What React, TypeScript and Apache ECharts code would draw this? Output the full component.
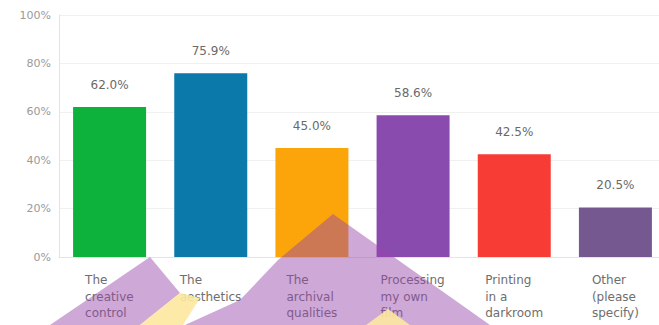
import React, { useEffect, useRef } from "react";
import * as echarts from "echarts";

const categories = [
  "The\ncreative\ncontrol",
  "The\naesthetics",
  "The\narchival\nqualities",
  "Processing\nmy own\nfilm",
  "Printing\nin a\ndarkroom",
  "Other\n(please\nspecify)",
];
const values = [62.0, 75.9, 45.0, 58.6, 42.5, 20.5];
const barColors = ["#0db23c", "#0b79a9", "#fba50a", "#8a4bae", "#f63c34", "#765890"];
const yTicks = [0, 20, 40, 60, 80, 100];

const FONT = "'DejaVu Sans', sans-serif";

function measure(text: string, size: number): number {
  const c = document.createElement("canvas");
  const ctx = c.getContext("2d");
  if (!ctx) return text.length * size * 0.6;
  ctx.font = `${size}px DejaVu Sans`;
  return ctx.measureText(text).width;
}

export default function App() {
  const ref = useRef<HTMLDivElement>(null);
  useEffect(() => {
    document.body.style.margin = "0";
    document.body.style.overflow = "hidden";
    if (!ref.current) return;
    const chart = echarts.init(ref.current, undefined, { renderer: "svg" });
    const rich: Record<string, any> = {};
    categories.forEach((cat, i) => {
      const w = Math.max(...cat.split("\n").map((l) => measure(l, 12)));
      rich["c" + i] = {
        width: Math.ceil(w),
        align: "left",
        fontSize: 12,
        fontFamily: FONT,
        color: "#6e6e6e",
        lineHeight: 16.5,
      };
    });
    const purple = "rgba(150,70,170,0.47)";
    const yellow = "rgba(253,232,160,0.9)";
    chart.setOption({
      animation: false,
      grid: { left: 59, right: 1, top: 15, bottom: 68 },
      xAxis: {
        type: "category",
        data: categories,
        axisLine: { show: true, lineStyle: { color: "#e8e2e4" } },
        axisTick: { show: false },
        axisLabel: {
          interval: 0,
          margin: 15,
          align: "center",
          verticalAlign: "top",
          formatter: (v: string, i: number) =>
            v
              .split("\n")
              .map((l) => `{c${i}|${l}}`)
              .join("\n"),
          rich,
        },
      },
      yAxis: {
        type: "value",
        min: 0,
        max: 100,
        interval: 20,
        axisLine: { show: true, lineStyle: { color: "#eadfe2" } },
        axisTick: { show: false },
        splitLine: { show: true, lineStyle: { color: "#f0f0f0" } },
        axisLabel: {
          margin: 8,
          color: "#9a9a9a",
          fontSize: 11,
          fontFamily: FONT,
          padding: [6, 0, 0, 0],
          formatter: (v: number) => (yTicks.includes(v) ? `${v}%` : ""),
        },
      },
      series: [
        {
          type: "bar",
          barWidth: 73,
          data: values.map((v, i) => ({ value: v, itemStyle: { color: barColors[i] } })),
          label: {
            show: true,
            position: "top",
            distance: 16,
            color: "#6a6a6a",
            fontSize: 12,
            fontFamily: FONT,
            formatter: (p: any) => `${p.value.toFixed(1)}%`,
          },
        },
      ],
      graphic: [
        {
          type: "polygon",
          z: 100,
          shape: { points: [[50, 325], [150, 257], [180, 293], [140, 325]] },
          style: { fill: purple },
        },
        {
          type: "polygon",
          z: 100,
          shape: { points: [[185, 325], [240, 300], [278, 260], [333, 214], [490, 325]] },
          style: { fill: purple },
        },
        {
          type: "polygon",
          z: 101,
          shape: { points: [[140, 325], [180, 293], [200, 298], [183, 325]] },
          style: { fill: yellow },
        },
        {
          type: "polygon",
          z: 101,
          shape: { points: [[366, 325], [388, 309], [410, 325]] },
          style: { fill: yellow },
        },
      ],
    });
    return () => chart.dispose();
  }, []);
  return <div ref={ref} style={{ width: 667, height: 325 }} />;
}
